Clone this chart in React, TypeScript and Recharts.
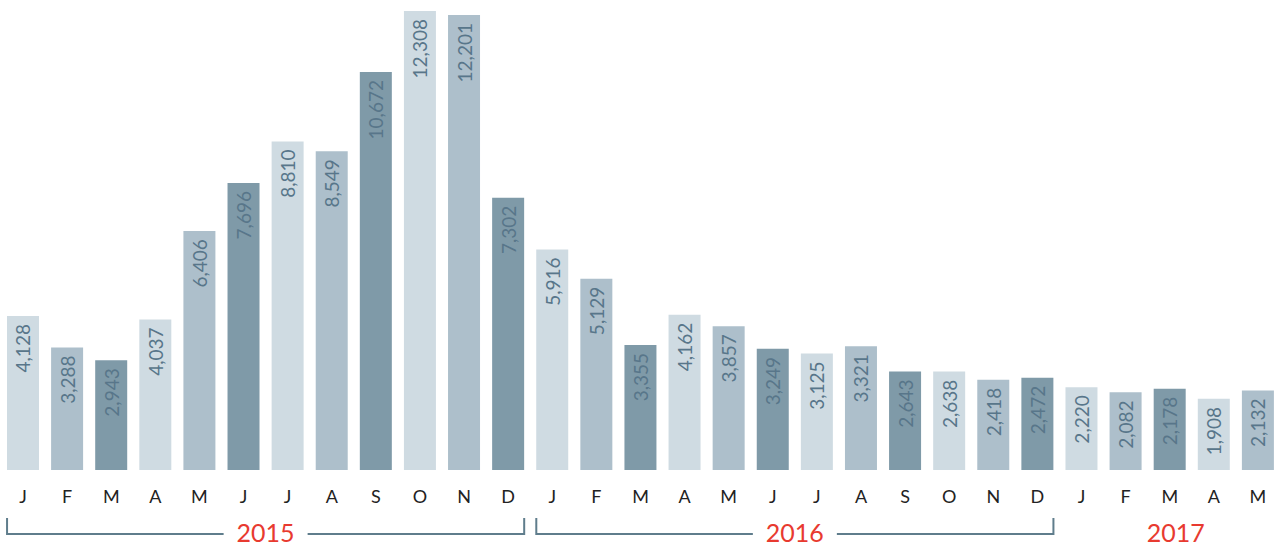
import { Bar, BarChart, Cell, LabelList, XAxis, YAxis } from "recharts";

const months = ["J", "F", "M", "A", "M", "J", "J", "A", "S", "O", "N", "D"];
const values2015 = [4128, 3288, 2943, 4037, 6406, 7696, 8810, 8549, 10672, 12308, 12201, 7302];
const values2016 = [5916, 5129, 3355, 4162, 3857, 3249, 3125, 3321, 2643, 2638, 2418, 2472];
const values2017 = [2220, 2082, 2178, 1908, 2132];
const years = [
  { label: "2015", start: 0, count: 12, bracket: true },
  { label: "2016", start: 12, count: 12, bracket: true },
  { label: "2017", start: 24, count: 5, bracket: false },
];
const shades = ["#cfdbe2", "#adbfcb", "#7f9aa8"];

const data = [...values2015, ...values2016, ...values2017].map((value, i) => ({
  key: `m${i}`,
  month: months[i % 12],
  value,
}));

const WIDTH = 1276;
const HEIGHT = 547;
const LEFT = 1;
const RIGHT = -4;
const PITCH = (WIDTH - LEFT - RIGHT) / data.length;
const BAR = 32;

function MonthTick(props: any) {
  const { x, y, index } = props;
  const group = years.find((g) => g.start === index);
  let extra = null;
  if (group) {
    const x0 = x - BAR / 2;
    const x1 = x + (group.count - 1) * PITCH + BAR / 2;
    const mid = group.bracket ? (x0 + x1) / 2 : x + ((group.count - 1) * PITCH) / 2 + 6;
    const lineY = y + 56;
    extra = (
      <g>
        {group.bracket && (
          <path
            d={`M${x0},${lineY - 16}V${lineY}H${mid - 42}M${mid + 42},${lineY}H${x1}V${lineY - 16}`}
            fill="none"
            stroke="#5f7d8c"
            strokeWidth={2}
          />
        )}
        <text
          x={mid}
          y={lineY - 2}
          textAnchor="middle"
          dominantBaseline="central"
          fill="#e83a30"
          fontSize={25}
          fontFamily="Lato, 'Noto Sans', sans-serif"
        >
          {group.label}
        </text>
      </g>
    );
  }
  return (
    <g>
      <text
        x={x}
        y={y + 18}
        textAnchor="middle"
        dominantBaseline="central"
        fill="#222"
        fontSize={18}
        fontFamily="Lato, 'Noto Sans', sans-serif"
      >
        {data[index]?.month}
      </text>
      {extra}
    </g>
  );
}

function ValueLabel(props: any) {
  const { x, y, width, value } = props;
  const cx = x + width / 2;
  const ty = y + 8;
  return (
    <text
      x={cx}
      y={ty}
      transform={`rotate(-90 ${cx} ${ty})`}
      textAnchor="end"
      dominantBaseline="central"
      fill="#58768a"
      fontSize={19}
      fontFamily="Lato, 'Noto Sans', sans-serif"
    >
      {Number(value).toLocaleString("en-US")}
    </text>
  );
}

export default function App() {
  return (
    <div style={{ position: "absolute", left: 0, top: 0, background: "#fff" }}>
      <BarChart
        width={WIDTH}
        height={HEIGHT}
        data={data}
        margin={{ top: 11, right: RIGHT, bottom: 0, left: LEFT }}
      >
        <XAxis
          dataKey="key"
          axisLine={false}
          tickLine={false}
          interval={0}
          height={77}
          tick={<MonthTick />}
        />
        <YAxis hide domain={[0, 12308]} />
        <Bar dataKey="value" barSize={BAR} isAnimationActive={false}>
          {data.map((d, i) => (
            <Cell key={d.key} fill={shades[i % 3]} />
          ))}
          <LabelList dataKey="value" content={<ValueLabel />} />
        </Bar>
      </BarChart>
    </div>
  );
}
